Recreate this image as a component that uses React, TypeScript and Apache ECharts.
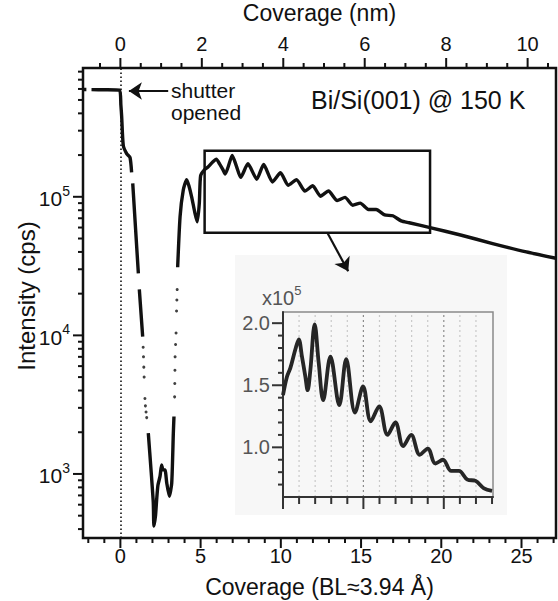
import React, { useEffect, useRef } from "react";
import * as echarts from "echarts";

const FONT = "'Liberation Sans', Arial, Helvetica, sans-serif";
const INK = "#111";

// ---- main plot ranges ----
const coverageMinBL = -2.33;
const coverageMaxBL = 27.15;
const intensityMin = 345;
const intensityMax = 8.5e5;
const NM_PER_BL = 0.394;

// ---- main curve: start-up, dip and first maxima (BL, cps); null = gap in the record ----
const earlyCoverage = [-2.33, -2.12, -2.0, -1.8, -1.0, -0.05, 0.03, 0.08, 0.18, 0.39, 0.6, 0.7, 0.74, 0.77, 1.12, 1.15, 1.18, 1.39, 1.5, 1.74, 1.91, 2.05, 2.09, 2.19, 2.26, 2.34, 2.47, 2.57, 2.66, 2.78, 2.89, 3.05, 3.2, 3.3, 3.34, 3.45, 3.57, 3.72, 3.92, 4.13, 4.27, 4.44, 4.65, 4.79, 4.92];
const earlyIntensity = [5.95e5, 5.95e5, null, 5.93e5, 5.92e5, 5.88e5, 4.6e5, 3.8e5, 2.35e5, 2.05e5, 1.92e5, 1.5e5, null, 1.25e5, 2.8e4, null, 2.15e4, 9.8e3, null, 1.97e3, 1.07e3, 620, 420, 500, 650, 830, 960, 1160, 1070, 1070, 860, 690, 860, 1970, 2600, null, 3.1e4, 7.2e4, 1.12e5, 1.33e5, 1.2e5, 1.0e5, 7.6e4, 6.6e4, 9.0e4];

// sparse (dotted) stretches of the record
const dotCoverage = [1.42, 1.44, 1.46, 1.48, 1.53, 1.56, 1.6, 1.64, 3.38, 3.39, 3.4, 3.41, 3.44, 3.47, 3.5, 3.52, 3.54];
const dotIntensity = [8.2e3, 7.0e3, 5.9e3, 5.0e3, 3.5e3, 3.1e3, 2.8e3, 2.55e3, 3.6e3, 4.5e3, 5.6e3, 7.0e3, 8.6e3, 1.04e4, 1.5e4, 1.8e4, 2.14e4];

// ---- oscillation window (inset), intensity in units of 10^5 cps ----
const insetCoverage = [5.0, 5.25, 5.46, 5.77, 5.98, 6.18, 6.39, 6.53, 6.7, 6.97, 7.22, 7.5, 7.95, 8.5, 8.93, 9.48, 9.98, 10.46, 10.98, 11.5, 11.99, 12.47, 12.97, 13.51, 14.0, 14.48, 14.95, 15.46, 15.94, 16.47, 16.98, 17.5, 18.0];
const insetIntensity = [1.42, 1.57, 1.64, 1.79, 1.87, 1.73, 1.57, 1.46, 1.62, 1.99, 1.68, 1.38, 1.73, 1.34, 1.71, 1.28, 1.49, 1.21, 1.33, 1.1, 1.2, 1.01, 1.1, 0.94, 0.99, 0.87, 0.9, 0.81, 0.81, 0.74, 0.73, 0.67, 0.65];

// ---- slow decay after the window (BL, cps) ----
const lateCoverage = [19.3, 21.2, 23.2, 25.3, 27.15];
const lateIntensity = [6.0e4, 5.3e4, 4.6e4, 4.0e4, 3.6e4];

// ---- annotations (data coords) ----
const zoomBoxCoverage = [5.25, 19.3];
const zoomBoxIntensity = [5.5e4, 2.15e5];
const shutterArrow = [[2.98, 5.8e5], [0.53, 5.8e5]];
const zoomArrow = [[12.9, 5.5e4], [14.2, 2.9e4]];

// ---- ticks ----
const bottomMajor = [0, 5, 10, 15, 20, 25];
const bottomMinor = [-2, -1, 1, 2, 3, 4, 6, 7, 8, 9, 11, 12, 13, 14, 16, 17, 18, 19, 21, 22, 23, 24, 26, 27];
const topMajorNm = [0, 2, 4, 6, 8, 10];
const topMinorNm = [-0.5, 0.5, 1, 1.5, 2.5, 3, 3.5, 4.5, 5, 5.5, 6.5, 7, 7.5, 8.5, 9, 9.5, 10.5];
const leftMajor = [1e3, 1e4, 1e5];
const leftMinor = [400, 500, 600, 700, 800, 900, 2e3, 3e3, 4e3, 5e3, 6e3, 7e3, 8e3, 9e3, 2e4, 3e4, 4e4, 5e4, 6e4, 7e4, 8e4, 9e4, 2e5, 3e5, 4e5, 5e5, 6e5, 7e5, 8e5];

const insetXMin = 5;
const insetXMax = 18.06;
const insetYMin = 0.6;
const insetYMax = 2.09;
const insetXMajor = [5, 10, 15];
const insetXMinor = [6, 7, 8, 9, 11, 12, 13, 14, 16, 17, 18];
const insetGrid = [6, 7, 8, 9, 10, 11, 12, 13, 14, 15, 16, 17];
const insetYMajor = [1.0, 1.5, 2.0];
const insetYMinor = [0.7, 0.8, 0.9, 1.1, 1.2, 1.3, 1.4, 1.6, 1.7, 1.8, 1.9];

function mainCurve() {
  const pts: any[] = [];
  earlyCoverage.forEach((x, i) => pts.push([x, earlyIntensity[i] == null ? "-" : earlyIntensity[i]]));
  insetCoverage.forEach((x, i) => pts.push([x, insetIntensity[i] * 1e5]));
  lateCoverage.forEach((x, i) => pts.push([x, lateIntensity[i]]));
  return pts;
}

const hiddenAxis = {
  axisLine: { show: false },
  axisTick: { show: false },
  axisLabel: { show: false },
  splitLine: { show: false },
};

export default function App() {
  const ref = useRef<HTMLDivElement>(null);
  useEffect(() => {
    const chart = echarts.init(ref.current!, null, { renderer: "svg" });
    chart.setOption({
      animation: false,
      backgroundColor: "#fff",
      grid: [
        { left: 83, right: 2, top: 68, bottom: 63, show: true, borderColor: INK, borderWidth: 2.5, backgroundColor: "transparent" },
        { left: 283, top: 312, width: 210, height: 185, show: true, borderColor: "#8a8a8a", borderWidth: 1.5, backgroundColor: "transparent" },
      ],
      xAxis: [
        { gridIndex: 0, type: "value", min: coverageMinBL, max: coverageMaxBL, ...hiddenAxis },
        {
          gridIndex: 1, type: "value", min: insetXMin, max: insetXMax, ...hiddenAxis,
          axisLine: { show: true, onZero: false, lineStyle: { color: "#333", width: 2 } }, z: 3,
        },
      ],
      yAxis: [
        { gridIndex: 0, type: "log", logBase: 10, min: intensityMin, max: intensityMax, ...hiddenAxis },
        {
          gridIndex: 1, type: "value", min: insetYMin, max: insetYMax, ...hiddenAxis,
          axisLine: { show: true, onZero: false, lineStyle: { color: "#333", width: 2 } }, z: 3,
        },
      ],
      series: [
        {
          name: "main",
          type: "line",
          xAxisIndex: 0,
          yAxisIndex: 0,
          data: mainCurve(),
          showSymbol: false,
          connectNulls: false,
          smooth: 0.2,
          lineStyle: { color: INK, width: 3.4, join: "round" },
          z: 5,
          markLine: {
            silent: true,
            symbol: "none",
            label: { show: false },
            lineStyle: { color: INK, width: 1.6, type: [1.6, 2.4] },
            data: [{ xAxis: 0 }],
          },
          markArea: {
            silent: true,
            label: { show: false },
            itemStyle: { color: "rgba(0,0,0,0)", borderColor: INK, borderWidth: 2.5 },
            data: [[
              { coord: [zoomBoxCoverage[0], zoomBoxIntensity[1]] },
              { coord: [zoomBoxCoverage[1], zoomBoxIntensity[0]] },
            ]],
          },
        },
        {
          name: "sparse",
          type: "scatter",
          xAxisIndex: 0,
          yAxisIndex: 0,
          data: dotCoverage.map((x, i) => [x, dotIntensity[i]]),
          symbolSize: 3,
          itemStyle: { color: INK },
          z: 5,
          markLine: {
            silent: true,
            symbol: ["none", "arrow"],
            symbolSize: 13,
            label: { show: false },
            lineStyle: { color: INK, width: 2.2, type: "solid" },
            data: [
              [{ coord: shutterArrow[0] }, { coord: shutterArrow[1] }],
              [{ coord: zoomArrow[0] }, { coord: zoomArrow[1] }],
            ],
          },
        },
        {
          name: "inset",
          type: "line",
          xAxisIndex: 1,
          yAxisIndex: 1,
          data: insetCoverage.map((x, i) => [x, insetIntensity[i]]),
          showSymbol: false,
          smooth: 0.35,
          lineStyle: { color: "#262626", width: 3.8, join: "round" },
          z: 5,
        },
      ],
    });

    const X = (v: number) => chart.convertToPixel({ xAxisIndex: 0 }, v) as number;
    const Y = (v: number) => chart.convertToPixel({ yAxisIndex: 0 }, v) as number;
    const XI = (v: number) => chart.convertToPixel({ xAxisIndex: 1 }, v) as number;
    const YI = (v: number) => chart.convertToPixel({ yAxisIndex: 1 }, v) as number;

    const g: any[] = [];
    const line = (x1: number, y1: number, x2: number, y2: number, w: number, color = INK, dash?: number[], z = 4) =>
      g.push({ type: "line", silent: true, z, shape: { x1, y1, x2, y2 }, style: { stroke: color, lineWidth: w, lineDash: dash } });
    const text = (x: number, y: number, t: string, size: number, align: string, vAlign: string, extra: any = {}, color = INK) =>
      g.push({
        type: "text", silent: true, z: 6, x, y, ...extra.el,
        style: { text: t, fontSize: size, fontFamily: FONT, fill: color, align, verticalAlign: vAlign, ...extra.style },
      });

    // inset background
    g.push({ type: "rect", silent: true, z: -5, shape: { x: 235, y: 255, width: 272, height: 260 }, style: { fill: "#f7f7f7" } });

    const L = X(coverageMinBL), R = X(coverageMaxBL), T = Y(intensityMax), B = Y(intensityMin);

    // main ticks
    bottomMajor.forEach((v) => line(X(v), B, X(v), B + 10, 2));
    bottomMinor.forEach((v) => line(X(v), B, X(v), B + 5, 2));
    topMajorNm.forEach((v) => line(X(v / NM_PER_BL), T, X(v / NM_PER_BL), T - 10, 2));
    topMinorNm.forEach((v) => line(X(v / NM_PER_BL), T, X(v / NM_PER_BL), T - 5, 2));
    leftMajor.forEach((v) => line(L, Y(v), L - 10, Y(v), 2));
    leftMinor.forEach((v) => line(L, Y(v), L - 5, Y(v), 2));

    // main tick labels
    bottomMajor.forEach((v) => text(X(v), B + 8, String(v), 20, "center", "top"));
    topMajorNm.forEach((v) => text(X(v / NM_PER_BL), T - 14, String(v), 20, "center", "bottom"));
    leftMajor.forEach((v) =>
      text(L - 13, Y(v) + 2, `10{s|${Math.round(Math.log10(v))}}`, 21, "right", "middle", {
        style: { lineHeight: 30, rich: { s: { fontSize: 14, fontFamily: FONT, fill: INK, verticalAlign: "top", lineHeight: 14 } } },
      })
    );

    // axis titles
    text((L + R) / 2, 13, "Coverage (nm)", 23, "center", "middle");
    text((L + R) / 2, 587, "Coverage (BL\u22483.94 \u00c5)", 23, "center", "middle");
    text(26, 296, "Intensity (cps)", 24, "center", "middle", { el: { rotation: Math.PI / 2 } });

    // annotations
    text(171, 90, "shutter", 21, "left", "middle");
    text(171, 112, "opened", 21, "left", "middle");
    text(311, 100, "Bi/Si(001) @ 150 K", 25, "left", "middle");

    // inset decorations
    const iL = XI(insetXMin), iB = YI(insetYMin), iT = YI(insetYMax);
    insetGrid.forEach((v) =>
      line(XI(v), iB, XI(v), iT, 1.2, v % 5 === 0 ? "#8c8c8c" : "#c9c9c9", [2, 3], -1)
    );
    insetXMajor.forEach((v) => line(XI(v), iB, XI(v), iB + 12, 2, "#333"));
    insetXMinor.forEach((v) => line(XI(v), iB, XI(v), iB + 7, 2, "#333"));
    insetYMajor.forEach((v) => line(iL, YI(v), iL - 11, YI(v), 2, "#333"));
    insetYMinor.forEach((v) => line(iL, YI(v), iL - 5, YI(v), 2, "#333"));
    insetYMajor.forEach((v) => text(iL - 13, YI(v), v.toFixed(1), 20, "right", "middle", {}, "#555"));
    text(262, 298, "x10{s|5}", 20, "left", "middle", {
      style: { lineHeight: 28, rich: { s: { fontSize: 13, fontFamily: FONT, fill: "#555", verticalAlign: "top", lineHeight: 13 } } },
    }, "#555");

    chart.setOption({ graphic: g });
    return () => chart.dispose();
  }, []);
  return <div ref={ref} style={{ position: "fixed", left: 0, top: 0, width: 558, height: 601 }} />;
}
